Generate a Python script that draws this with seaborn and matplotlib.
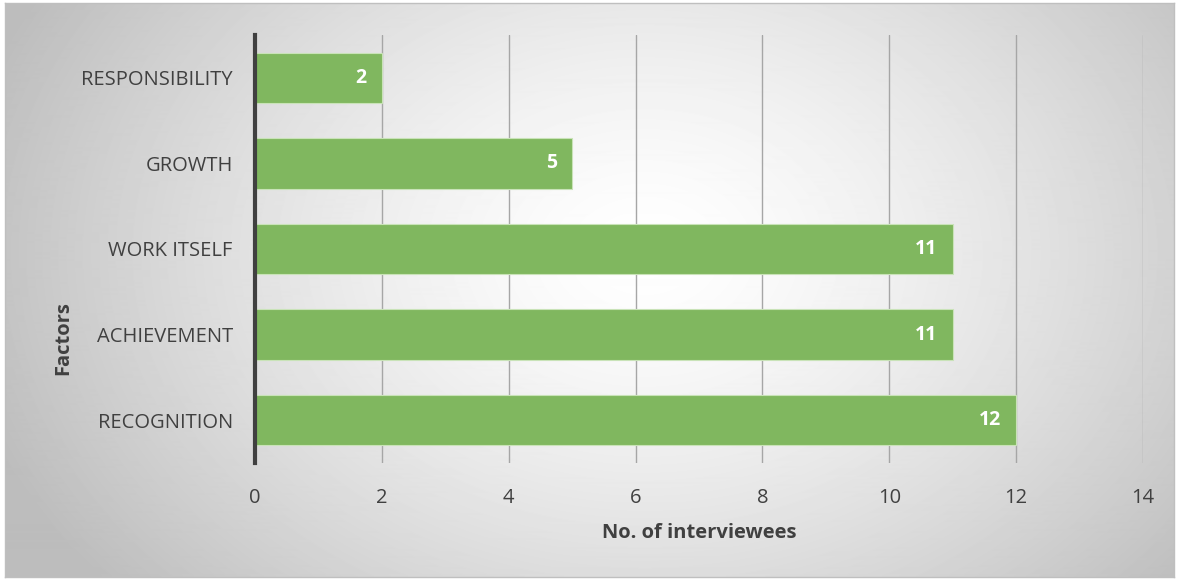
import numpy as np
import pandas as pd
import matplotlib.pyplot as plt
import seaborn as sns

factores = ['RESPONSIBILITY', 'GROWTH', 'WORK ITSELF', 'ACHIEVEMENT', 'RECOGNITION']
entrevistados = [2, 5, 11, 11, 12]

df = pd.DataFrame({'Factor': factores, 'Count': entrevistados})

sns.set_theme(style='white')
plt.rcParams['font.family'] = ['Open Sans', 'DejaVu Sans']

fig = plt.figure(figsize=(11.78, 5.79), dpi=100)

# fondo con degradado radial
bg = fig.add_axes([0.004, 0.003, 0.993, 0.992])
h, w = 574, 1170
yy, xx = np.mgrid[0:h, 0:w]
d = np.sqrt(((xx - 640) / 700) ** 2 + ((yy - 250) / 520) ** 2)
grad = np.clip(1 - 0.26 * d ** 1.4, 0.74, 1)
bg.imshow(grad, cmap='gray', vmin=0, vmax=1, aspect='auto', interpolation='bilinear')
bg.set_xticks([])
bg.set_yticks([])
for s in bg.spines.values():
    s.set_color('#bfbfbf')
    s.set_linewidth(1)

ax = fig.add_axes([255 / 1178, 1 - 463 / 579, (1143 - 255) / 1178, (463 - 35) / 579])
ax.patch.set_alpha(0)

sns.barplot(data=df, x='Count', y='Factor', color='#80b75f', width=0.59,
            saturation=1, edgecolor='#c9e3b8', linewidth=0.8, ax=ax, zorder=3)

ax.set_xlim(0, 14)
ax.set_xticks(range(0, 15, 2))
ax.grid(axis='x', color='#a6a6a6', linewidth=1, zorder=0)
ax.grid(axis='y', visible=False)
for s in ['top', 'right', 'bottom']:
    ax.spines[s].set_visible(False)
ax.spines['left'].set_color('#404040')
ax.spines['left'].set_linewidth(3)
ax.spines['left'].set_zorder(4)

ax.tick_params(axis='x', length=0, pad=18, labelsize=14.5, labelcolor='#404040')
ax.tick_params(axis='y', length=0, pad=16, labelsize=14.5, labelcolor='#404040')

for cont in ax.containers:
    etiquetas = ax.bar_label(cont, padding=-11, color='white', fontweight='bold', fontsize=14)
    for t in etiquetas:
        t.set_ha('right')

ax.set_xlabel('No. of interviewees', fontsize=14.5, fontweight='bold', color='#404040', labelpad=11)
ax.set_ylabel('Factors', fontsize=14.5, fontweight='bold', color='#404040')
ax.yaxis.set_label_coords(-182 / 888, (463 - 338) / 428)

fig.savefig('out.png', dpi=100, facecolor='white')
